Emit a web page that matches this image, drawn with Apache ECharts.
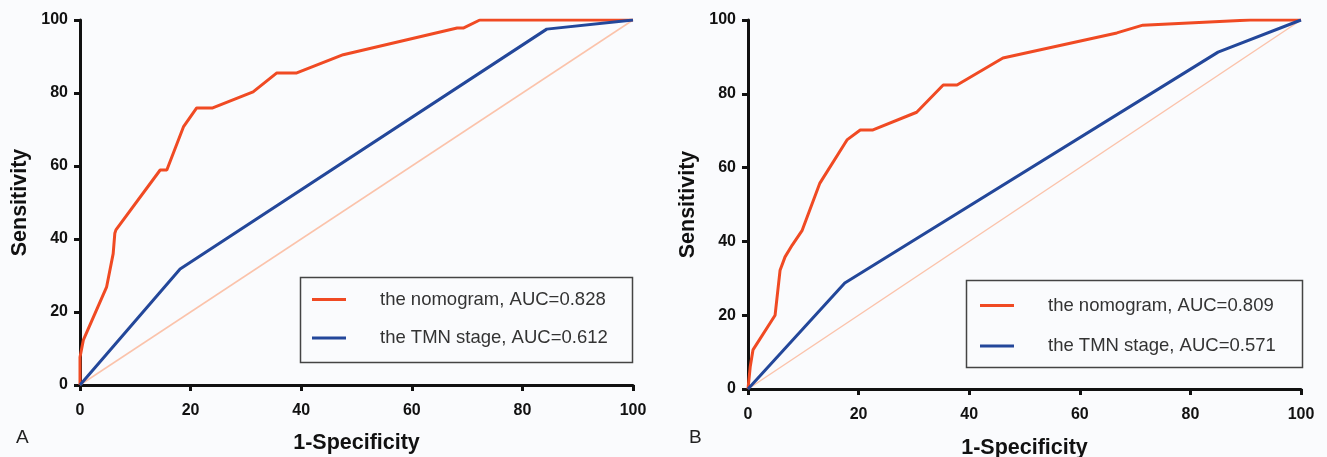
<!DOCTYPE html>
<html>
<head>
<meta charset="utf-8">
<style>
html, body { margin: 0; padding: 0; background: #fafbfd; }
#main { width: 1327px; height: 457px; }
</style>
<script src="https://cdn.jsdelivr.net/npm/echarts@6/dist/echarts.min.js"></script>
</head>
<body>
<div id="main"></div>
<script>
// axis ticks
var ticks = [0, 20, 40, 60, 80, 100];

// panel A
var aNomoX = [0, 0, 0.6, 4.8, 6, 6.3, 6.5, 14.5, 15.7, 18.7, 21.1, 24, 31.3, 35.6, 39.2, 47.6, 68.2, 69.3, 72.3, 100];
var aNomoY = [0, 7.6, 12.3, 26.8, 36, 41.6, 42.5, 58.9, 58.9, 70.7, 75.9, 75.9, 80.3, 85.5, 85.5, 90.5, 97.8, 97.8, 100, 100];
var aTmnX = [0, 18.1, 84.4, 100];
var aTmnY = [0, 31.8, 97.5, 100];
var aNames = ['the nomogram, AUC=0.828', 'the TMN stage, AUC=0.612'];

// panel B
var bNomoX = [0, 0.4, 0.9, 4.9, 5.8, 6.7, 8, 9.8, 13, 17.9, 20.3, 22.6, 30.5, 35.3, 37.8, 46.1, 66.7, 71.4, 90.8, 100];
var bNomoY = [0, 6, 10.6, 20, 32.2, 35.8, 39, 43, 55.8, 67.5, 70.2, 70.2, 75, 82.4, 82.4, 89.7, 96.5, 98.6, 100, 100];
var bTmnX = [0, 17.5, 85, 100];
var bTmnY = [0, 28.7, 91.3, 100];
var bNames = ['the nomogram, AUC=0.809', 'the TMN stage, AUC=0.571'];

// chance line
var refX = [0, 100];
var refY = [0, 100];

function zip(xs, ys) {
	return xs.map(function (x, i) { return [x, ys[i]]; });
}

var orange = '#f04a23';
var blue = '#23479a';
var pale = '#fbc3ab';

function axis(gi, name, gap, rotate, margin) {
	return {
		type: 'value',
		gridIndex: gi,
		min: ticks[0],
		max: ticks[ticks.length - 1],
		interval: ticks[1] - ticks[0],
		name: name,
		nameLocation: 'middle',
		nameGap: gap,
		nameRotate: rotate,
		nameTextStyle: { fontFamily: 'Liberation Sans', fontWeight: 'bold', fontSize: 21.5, color: '#111' },
		axisLine: { show: true, lineStyle: { color: '#111', width: 3 } },
		axisTick: { show: true, length: 6, lineStyle: { color: '#111', width: 3 } },
		axisLabel: { fontFamily: 'Liberation Sans', fontWeight: 'bold', fontSize: 16, color: '#111', margin: margin },
		splitLine: { show: false }
	};
}

function line(name, gi, data, color, width, z) {
	return {
		name: name,
		type: 'line',
		xAxisIndex: gi,
		yAxisIndex: gi,
		data: data,
		symbol: 'none',
		silent: true,
		z: z,
		lineStyle: { color: color, width: width },
		itemStyle: { color: color }
	};
}

function legend(names, left, top, gap) {
	return {
		data: names,
		orient: 'vertical',
		left: left,
		top: top,
		padding: 0,
		itemGap: gap,
		itemWidth: 34,
		itemHeight: 3,
		icon: 'rect',
		textStyle: { fontFamily: 'Liberation Sans', fontSize: 18.5, color: '#333', padding: [0, 0, 0, 29] }
	};
}

var myChart = echarts.init(document.getElementById('main'));
var option = {
	backgroundColor: '#fafbfd',
	animation: false,
	grid: [
		{ left: 80, top: 20, width: 553, height: 365, outerBoundsMode: 'none' },
		{ left: 748, top: 20, width: 553, height: 369, outerBoundsMode: 'none' }
	],
	xAxis: [axis(0, '1-Specificity', 47, 0, 18), axis(1, '1-Specificity', 48, 0, 18)],
	yAxis: [axis(0, 'Sensitivity', 49, 90, 12), axis(1, 'Sensitivity', 49, 90, 12)],
	legend: [legend(aNames, 312, 290, 19.5), legend(bNames, 980, 296, 21.5)],
	graphic: [
		{ type: 'rect', shape: { x: 300.5, y: 277.5, width: 332, height: 85 }, style: { fill: 'none', stroke: '#444', lineWidth: 1.5 }, silent: true },
		{ type: 'rect', shape: { x: 966.5, y: 280.5, width: 336, height: 87 }, style: { fill: 'none', stroke: '#444', lineWidth: 1.5 }, silent: true },
		{ type: 'text', left: 16, top: 428, style: { text: 'A', fontFamily: 'Liberation Sans', fontSize: 19, fill: '#222' } },
		{ type: 'text', left: 689, top: 428, style: { text: 'B', fontFamily: 'Liberation Sans', fontSize: 19, fill: '#222' } }
	],
	series: [
		line('refA', 0, zip(refX, refY), pale, 1.5, 1),
		line(aNames[0], 0, zip(aNomoX, aNomoY), orange, 3, 3),
		line(aNames[1], 0, zip(aTmnX, aTmnY), blue, 3, 4),
		line('refB', 1, zip(refX, refY), pale, 1.5, 1),
		line(bNames[0], 1, zip(bNomoX, bNomoY), orange, 3, 3),
		line(bNames[1], 1, zip(bTmnX, bTmnY), blue, 3, 4)
	]
};
myChart.setOption(option);
</script>
</body>
</html>
